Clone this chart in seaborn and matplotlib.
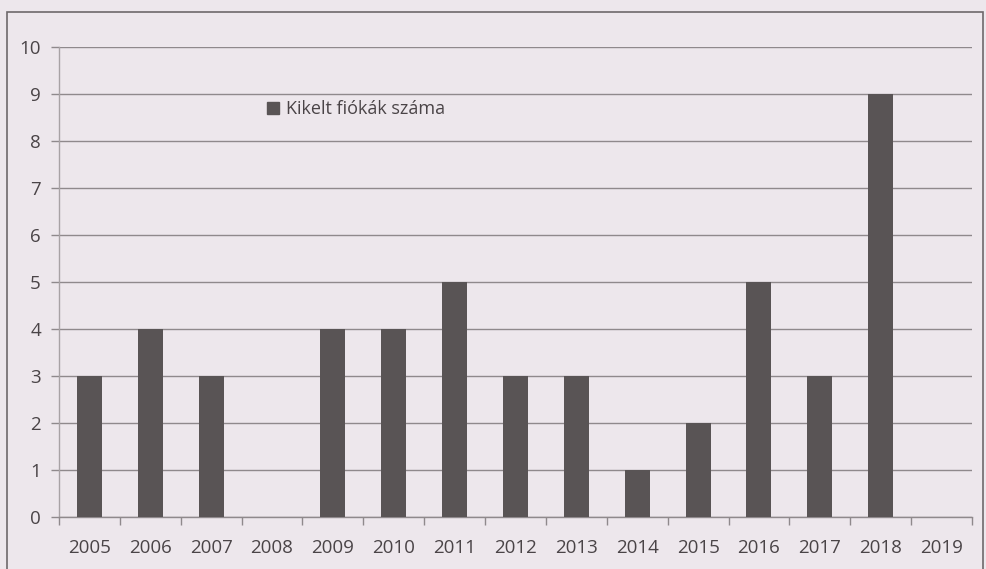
import matplotlib
matplotlib.use("Agg")
import matplotlib.pyplot as plt
import seaborn as sns
import pandas as pd
from matplotlib.patches import Rectangle, Patch

years = ["2005", "2006", "2007", "2008", "2009", "2010", "2011", "2012",
         "2013", "2014", "2015", "2016", "2017", "2018", "2019"]
values = [3, 4, 3, 0, 4, 4, 5, 3, 3, 1, 2, 5, 3, 9, 0]
series_name = "Kikelt fiókák száma"
y_ticks = [0, 1, 2, 3, 4, 5, 6, 7, 8, 9, 10]

df = pd.DataFrame({"year": years, "value": values})

sns.set_theme(style="white")
plt.rcParams["font.family"] = ["Open Sans", "DejaVu Sans"]

bg = "#ede7ec"
bar_color = "#595455"
text_color = "#4a4447"
grid_color = "#8f898c"

W, H = 987, 569
fig = plt.figure(figsize=(W / 100, H / 100), dpi=100, facecolor=bg)
ax = fig.add_axes([59 / W, (H - 517) / H, (972 - 59) / W, (517 - 47) / H])
ax.set_facecolor(bg)

sns.barplot(data=df, x="year", y="value", color=bar_color, width=0.41,
            saturation=1, linewidth=0, ax=ax, zorder=3)

ax.set_ylim(0, 10)
ax.set_xlim(-0.5, len(years) - 0.5)
ax.set_yticks(y_ticks)
ax.set_yticklabels([str(t) for t in y_ticks], fontsize=13.5, color=text_color)
ax.yaxis.grid(True, color=grid_color, linewidth=1.0, zorder=0)
ax.set_axisbelow(True)
ax.tick_params(axis="y", length=6, width=1, color=grid_color, pad=7, left=True)
ax.set_xticks([i - 0.5 for i in range(len(years) + 1)], minor=False)
ax.set_xticklabels([""] * (len(years) + 1))
ax.set_xticks(range(len(years)), minor=True)
ax.set_xticklabels(years, minor=True, fontsize=13.5, color=text_color)
ax.tick_params(axis="x", which="major", length=6, width=1, color=grid_color,
               bottom=True, direction="out")
ax.tick_params(axis="x", which="minor", length=0, pad=16)
ax.set_xlabel("")
ax.set_ylabel("")
for s in ["top", "right"]:
    ax.spines[s].set_visible(False)
ax.spines["left"].set_color("#a8a2a5")
ax.spines["bottom"].set_color(grid_color)
ax.spines["left"].set_linewidth(1)
ax.spines["bottom"].set_linewidth(1)

handle = Patch(facecolor=bar_color, edgecolor=bar_color)
leg = ax.legend([handle], [series_name], loc="center left",
                bbox_to_anchor=((251 - 59) / (972 - 59), (517 - 109) / (517 - 47)),
                frameon=False, fontsize=13, handlelength=0.65, handleheight=0.65,
                handletextpad=0.4, labelcolor=text_color)

fig.patches.append(Rectangle((7 / W, -0.05), (983 - 7) / W, (H - 12) / H + 0.05,
                             transform=fig.transFigure, fill=False,
                             edgecolor="#6e686b", linewidth=1.2))

fig.savefig("out.png", dpi=100, facecolor=bg)
